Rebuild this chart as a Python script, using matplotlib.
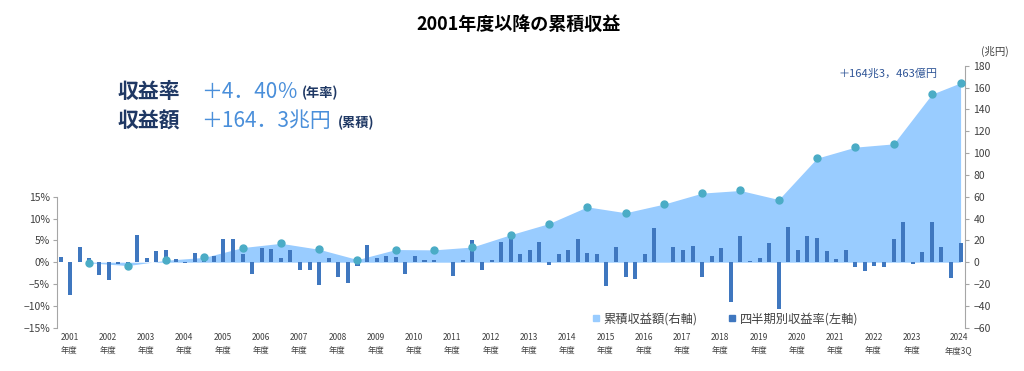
import numpy as np
import matplotlib
matplotlib.use('Agg')
import matplotlib.pyplot as plt
from matplotlib.lines import Line2D

plt.rcParams['font.family'] = ['Noto Sans CJK JP', 'DejaVu Sans']

# 四半期別収益率 (%), 2001年度Q1 〜 2024年度Q3
quarterly = [
    1.1, -7.6, 3.4, 1.0,     # 2001
    -3.0, -4.0, -0.4, -0.9,  # 2002
    6.3, 0.9, 2.6, 2.7,      # 2003
    0.8, -0.2, 2.0, 1.8,     # 2004
    1.5, 5.2, 5.3, 1.8,      # 2005
    -2.7, 3.2, 3.1, 1.0,     # 2006
    2.7, -1.8, -1.7, -5.3,   # 2007
    1.0, -3.4, -4.7, -0.8,   # 2008
    3.9, 1.0, 1.5, 1.2,      # 2009
    -2.8, 1.5, 0.5, 0.6,     # 2010
    0.15, -3.2, 0.5, 5.0,    # 2011
    -1.8, 0.4, 4.7, 5.9,     # 2012
    1.8, 2.7, 4.7, -0.7,     # 2013
    1.8, 2.7, 5.2, 2.1,      # 2014
    1.8, -5.5, 3.5, -3.5,    # 2015
    -3.9, 1.8, 7.9, 0.15,    # 2016
    3.4, 2.9, 3.8, -3.5,     # 2017
    1.5, 3.3, -9.2, 6.0,     # 2018
    0.2, 1.0, 4.4, -10.7,    # 2019
    8.1, 2.9, 6.0, 5.5,      # 2020
    2.6, 0.8, 2.7, -1.2,     # 2021
    -2.1, -0.9, -1.1, 5.2,   # 2022
    9.3, -0.4, 2.4, 9.3,     # 2023
    3.5, -3.7, 4.3,          # 2024 (Q1-Q3)
]

# 累積収益額 (兆円), 各年度末 + 2024年度3Q
cum_values = [-0.6, -3.1, 1.8, 4.4, 13.4, 17.3, 11.8, 2.4, 11.6, 11.3, 13.9, 25.2,
              35.4, 50.7, 45.3, 53.2, 63.3, 65.7, 57.4, 95.3, 105.4, 108.4, 153.9, 164.3]

years = list(range(2001, 2025))
year_labels = [f'{y}\n年度' for y in years[:-1]] + ['2024\n年度3Q']
left_ticks = [-15, -10, -5, 0, 5, 10, 15]
right_ticks = list(range(-60, 181, 20))

bar_color = '#3F77BF'
area_color = '#99CCFF'
dot_color = '#4BACC6'
axis_color = '#A6A6A6'
navy = '#1F3864'

n = len(quarterly)
x = np.arange(n)
cum_x = list(np.arange(3, 4 * (len(cum_values) - 1), 4)) + [n - 1]

fig = plt.figure(figsize=(10.24, 3.71), dpi=100)
ax = fig.add_axes([57 / 1024, 1 - 327.7 / 371, (965 - 57) / 1024, 262 / 371])
ax2 = ax.twinx()
ax3 = ax.twinx()

# area (right axis)
ax2.fill_between(cum_x, cum_values, 0, color=area_color, lw=0)
ax2.set_ylim(-60, 180)
ax2.set_yticks(right_ticks)
ax2.set_yticklabels([str(v).replace('-', '−') for v in right_ticks])

# bars (left axis), above the area
ax.bar(x, quarterly, width=0.42, color=bar_color)
ax.set_ylim(-15, 45)
ax.set_yticks(left_ticks)
ax.set_yticklabels([f'{v}%'.replace('-', '−') for v in left_ticks])
ax.set_zorder(ax2.get_zorder() + 1)
ax.patch.set_visible(False)

# dots on top
ax3.plot(cum_x, cum_values, 'o', ms=5, color=dot_color)
ax3.set_ylim(-60, 180)
ax3.set_zorder(ax.get_zorder() + 1)
ax3.axis('off')

ax.set_xlim(-0.39, n - 1 + 0.46)
ax.set_xticks([4 * i + 0.9 for i in range(len(years) - 1)] + [n - 1.2])
ax.set_xticklabels(year_labels)
for lab in ax.get_xticklabels():
    lab.set_linespacing(1.5)
ax.tick_params(axis='x', length=0, labelsize=6, labelcolor='#404040', pad=4)
ax.tick_params(axis='y', direction='out', length=3, color=axis_color,
               labelsize=7.5, labelcolor='#404040', pad=2)
ax2.tick_params(axis='y', direction='out', length=3, color=axis_color,
                labelsize=7.5, labelcolor='#404040', pad=3)

for s in ['top', 'right', 'bottom']:
    ax.spines[s].set_visible(False)
ax.spines['left'].set_color(axis_color)
ax.spines['left'].set_bounds(-15, 15)
for s in ['top', 'left', 'bottom']:
    ax2.spines[s].set_visible(False)
ax2.spines['right'].set_color(axis_color)

# legend
handles = [Line2D([], [], marker='s', ls='', color=area_color, ms=5),
           Line2D([], [], marker='s', ls='', color=bar_color, ms=5)]
fig.legend(handles, ['累積収益額(右軸)', '四半期別収益率(左軸)'],
           loc='center left', bbox_to_anchor=(592 / 1024, 1 - 319 / 371),
           ncol=2, frameon=False, fontsize=8.8, handlelength=0.6,
           handletextpad=0.3, columnspacing=2.6, borderpad=0, borderaxespad=0,
           labelcolor='#404040')

# texts
fig.text(519 / 1024, 1 - 24 / 371, '2001年度以降の累積収益', fontsize=13,
         fontweight='bold', ha='center', va='center')
fig.text(118 / 1024, 1 - 91.5 / 371, '収益率', fontsize=15, fontweight='bold',
         color=navy, va='center')
fig.text(201 / 1024, 1 - 91.5 / 371, '＋4．40％', fontsize=15, color='#4A8FDA',
         va='center')
fig.text(302 / 1024, 1 - 93 / 371, '(年率)', fontsize=9.5, fontweight='bold',
         color=navy, va='center')
fig.text(118 / 1024, 1 - 121 / 371, '収益額', fontsize=15, fontweight='bold',
         color=navy, va='center')
fig.text(201 / 1024, 1 - 121 / 371, '＋164．3兆円', fontsize=15, color='#4A8FDA',
         va='center')
fig.text(338 / 1024, 1 - 123 / 371, '(累積)', fontsize=9.5, fontweight='bold',
         color=navy, va='center')
fig.text(888 / 1024, 1 - 73.3 / 371, '＋164兆3，463億円', fontsize=8,
         color='#2F5597', ha='center', va='center')
fig.text(995 / 1024, 1 - 51 / 371, '(兆円)', fontsize=7.5, color='#404040',
         ha='center', va='center')

fig.savefig('out.png', dpi=100)
